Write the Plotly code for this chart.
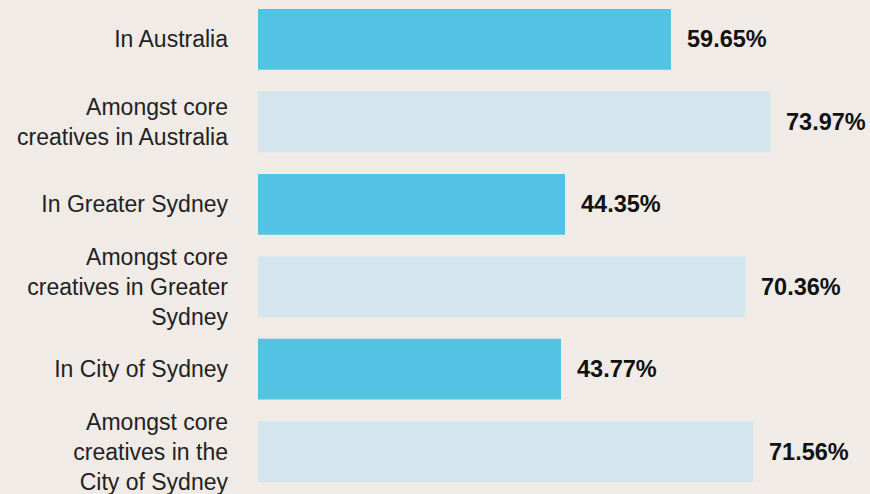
import plotly.graph_objects as go

categories = [
    "In Australia",
    "Amongst core<br>creatives in Australia",
    "In Greater Sydney",
    "Amongst core<br>creatives in Greater<br>Sydney",
    "In City of Sydney",
    "Amongst core<br>creatives in the<br>City of Sydney",
]
values = [59.65, 73.97, 44.35, 70.36, 43.77, 71.56]
value_labels = ["59.65%", "73.97%", "44.35%", "70.36%", "43.77%", "71.56%"]
bar_colors = ["#53c3e3", "#d4e6ed", "#53c3e3", "#d4e6ed", "#53c3e3", "#d4e6ed"]

fig = go.Figure()
fig.add_trace(go.Bar(
    x=values,
    y=categories,
    orientation="h",
    marker=dict(color=bar_colors, line=dict(width=0)),
    hoverinfo="skip",
))

for c, v, t in zip(categories, values, value_labels):
    fig.add_annotation(
        x=v, y=c, text="<b>" + t + "</b>", showarrow=False,
        xanchor="left", yanchor="middle", xshift=14,
        font=dict(family="Liberation Sans, Arial, sans-serif", size=23.5, color="#111111"),
    )

fig.update_layout(
    width=870, height=494,
    margin=dict(l=258, r=0, t=0, b=0),
    paper_bgcolor="#f0ebe6",
    plot_bgcolor="#f0ebe6",
    bargap=0.263,
    showlegend=False,
    xaxis=dict(range=[0, 88.4], visible=False, fixedrange=True),
    yaxis=dict(
        range=[5.489, -0.477],
        type="category",
        showgrid=False, zeroline=False, showline=False,
        ticks="", ticklabelstandoff=29,
        tickfont=dict(family="Liberation Sans, Arial, sans-serif", size=23, color="#222222"),
        fixedrange=True,
    ),
)

fig.write_html(
    "out.html",
    config={"displayModeBar": False},
    post_script="document.body.style.margin='0';document.body.style.background='#f0ebe6';",
)
